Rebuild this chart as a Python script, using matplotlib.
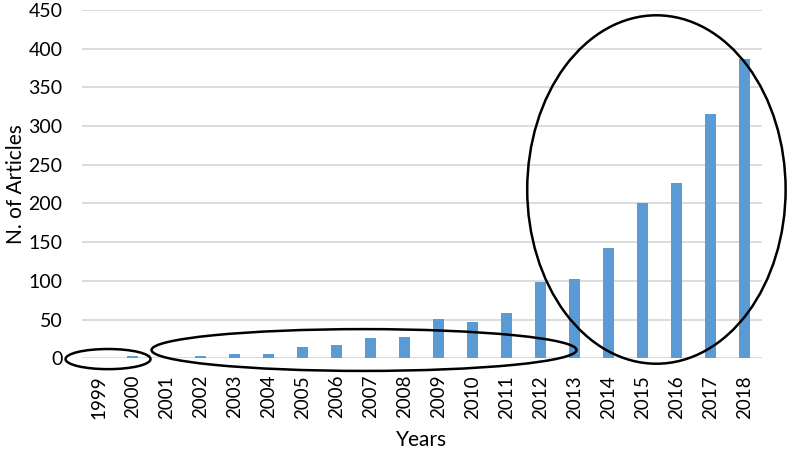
import matplotlib.pyplot as plt
from matplotlib.patches import Ellipse

# -----------------------------
# Data
# -----------------------------
years = [str(y) for y in range(1999, 2019)]
articles = [1, 3, 0, 3, 6, 5, 14, 17, 26, 28, 51, 47, 59, 98, 102, 143, 200, 226, 316, 386]

BAR_COLOR = "#5B9BD5"
GRID_COLOR = "#D9D9D9"

plt.rcParams["font.family"] = ["Lato", "DejaVu Sans"]

fig = plt.figure(figsize=(7.87, 4.49), dpi=100)
ax = fig.add_axes([0.104, 0.202, 0.864, 0.776])

x = list(range(len(years)))
ax.bar(x, articles, width=0.32, color=BAR_COLOR, zorder=3)

ax.set_xlim(-0.5, len(years) - 0.5)
ax.set_ylim(0, 450)
ax.set_yticks(range(0, 451, 50))
ax.set_xticks(x)
ax.set_xticklabels(years, rotation=90, fontsize=13.5)
ax.tick_params(axis="y", labelsize=14, length=0, pad=14)
ax.tick_params(axis="x", length=0, pad=12)

ax.grid(axis="y", color=GRID_COLOR, linewidth=1.3, zorder=0)
for side in ["top", "right", "left", "bottom"]:
    ax.spines[side].set_visible(False)

ax.set_ylabel("N. of Articles", fontsize=15, labelpad=2)
ax.set_xlabel("Years", fontsize=15, labelpad=8)

# -----------------------------
# Highlight ellipses
# -----------------------------
ellipses = [
    ((0.27, -1), 2.5, 26),
    ((7.8, 10.7), 12.5, 54),
    ((16.4, 218), 7.6, 450),
]
for center, w, h in ellipses:
    ax.add_patch(Ellipse(center, w, h, fill=False, edgecolor="black",
                         linewidth=1.8, zorder=5, clip_on=False))

fig.savefig("out.png", dpi=100)
